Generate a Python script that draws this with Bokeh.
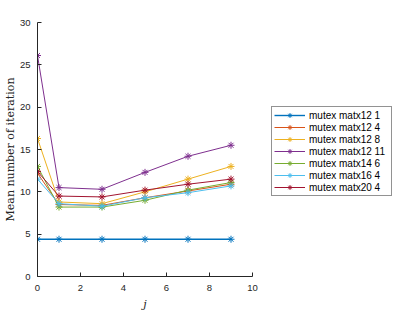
from bokeh.plotting import figure
from bokeh.models import Legend, LegendItem, Range1d, FixedTicker
from bokeh.embed import file_html
from bokeh.resources import INLINE

j = [0, 1, 3, 5, 7, 9]
matx12_1 = [4.4, 4.4, 4.4, 4.4, 4.4, 4.4]
matx12_4 = [12.2, 8.5, 8.4, 9.3, 10.1, 10.9]
matx12_8 = [16.3, 8.8, 8.6, 10.0, 11.5, 13.0]
matx12_11 = [26.1, 10.5, 10.3, 12.3, 14.2, 15.5]
matx14_6 = [13.0, 8.2, 8.2, 9.0, 10.2, 11.1]
matx16_4 = [11.5, 8.6, 8.3, 9.3, 9.9, 10.7]
matx20_4 = [12.4, 9.5, 9.4, 10.2, 10.9, 11.5]

names = ["mutex matx12 1", "mutex matx12 4", "mutex matx12 8", "mutex matx12 11",
         "mutex matx14 6", "mutex matx16 4", "mutex matx20 4"]
series = [matx12_1, matx12_4, matx12_8, matx12_11, matx14_6, matx16_4, matx20_4]
colors = ["#0072BD", "#D95319", "#EDB120", "#7E2F8E", "#77AC30", "#4DBEEE", "#A2142F"]

p = figure(frame_width=215, frame_height=254, output_backend="svg", toolbar_location=None,
           x_range=Range1d(0, 10), y_range=Range1d(0, 30),
           min_border_left=0, min_border_right=10, min_border_top=22, min_border_bottom=5)
p.background_fill_color = "white"
p.border_fill_color = "white"
p.outline_line_color = None
p.grid.visible = False

items = []
for name, ys, c in zip(names, series, colors):
    lw = 1.4 if name == "mutex matx12 1" else 1.0
    r1 = p.line(j, ys, line_color=c, line_width=lw)
    r2 = p.scatter(j, ys, marker="asterisk", size=7, line_color=c, line_width=1)
    items.append(LegendItem(label=name, renderers=[r1, r2]))

for ax in (p.xaxis[0], p.yaxis[0]):
    ax.axis_line_color = "#262626"
    ax.major_tick_line_color = "#262626"
    ax.minor_tick_line_color = None
    ax.major_tick_in = 4
    ax.major_tick_out = 0
    ax.major_label_text_font = "Liberation Sans"
    ax.major_label_text_font_size = "9.5px"
    ax.major_label_text_color = "#262626"
    ax.axis_label_text_font = "DejaVu Serif"
    ax.axis_label_text_font_style = "normal"
    ax.axis_label_text_font_size = "11px"
    ax.axis_label_text_color = "#262626"

p.xaxis.ticker = FixedTicker(ticks=[0, 2, 4, 6, 8, 10])
p.yaxis.ticker = FixedTicker(ticks=[0, 5, 10, 15, 20, 25, 30])
p.xaxis.axis_label = "j"
p.xaxis.axis_label_text_font_style = "italic"
p.yaxis.axis_label = "Mean number of iteration"
p.xaxis.major_label_standoff = 8
p.yaxis.major_label_standoff = 7
p.xaxis.axis_label_standoff = 4
p.yaxis.axis_label_standoff = 0

legend = Legend(items=items, location=(19, 80), orientation="vertical")
legend.label_text_font = "Liberation Sans"
legend.label_text_font_size = "10px"
legend.label_text_color = "#000000"
legend.glyph_width = 31
legend.glyph_height = 12
legend.label_height = 12
legend.label_width = 80
legend.spacing = 0
legend.padding = 2
legend.margin = 0
legend.label_standoff = 4
legend.border_line_color = "#262626"
legend.border_line_width = 1
legend.background_fill_alpha = 1
p.add_layout(legend, "right")

open("out.html", "w").write(file_html(p, INLINE))
